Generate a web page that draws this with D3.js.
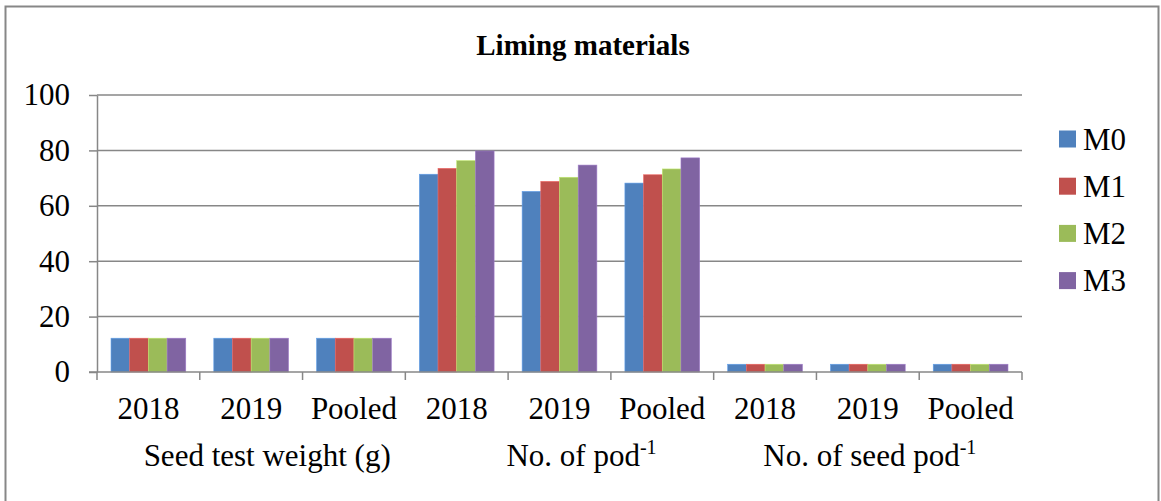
<!DOCTYPE html>
<html>
<head>
<meta charset="utf-8">
<script src="https://cdn.jsdelivr.net/npm/d3@7"></script>
<style>
  html, body { margin: 0; padding: 0; background: #fff; }
  svg { display: block; font-family: "Liberation Serif", "Times New Roman", serif; }
</style>
</head>
<body>
<svg id="chart" width="1161" height="501"></svg>
<script>
// Categories: year within each trait group
const categories = ["2018", "2019", "Pooled", "2018", "2019", "Pooled", "2018", "2019", "Pooled"];
const groups = ["Seed test weight (g)", "No. of pod", "No. of seed pod"];
const groupSup = ["", "-1", "-1"];
const seriesNames = ["M0", "M1", "M2", "M3"];
const seriesColors = ["#4F81BD", "#C0504D", "#9BBB59", "#8064A2"];

// Series values per category
const M0 = [12.2, 12.2, 12.2, 71.4, 65.2, 68.2, 2.8, 2.8, 2.8];
const M1 = [12.2, 12.2, 12.2, 73.5, 68.8, 71.2, 2.8, 2.8, 2.8];
const M2 = [12.2, 12.2, 12.2, 76.3, 70.3, 73.3, 2.8, 2.8, 2.8];
const M3 = [12.2, 12.2, 12.2, 79.8, 74.7, 77.3, 2.8, 2.8, 2.8];
const yTicks = [0, 20, 40, 60, 80, 100];

const series = [M0, M1, M2, M3];
const svg = d3.select("#chart");
const grey = "#878787";
const fs = 31;

// Outer chart frame
svg.append("rect")
  .attr("x", 5.5).attr("y", 6.5)
  .attr("width", 1153).attr("height", 520)
  .attr("fill", "none").attr("stroke", grey).attr("stroke-width", 2);

// Title
svg.append("text")
  .attr("x", 583).attr("y", 55)
  .attr("text-anchor", "middle")
  .attr("font-weight", "bold").attr("font-size", 29)
  .text("Liming materials");

const plot = { left: 97, right: 1022, top: 95, bottom: 372 };

const x = d3.scaleBand()
  .domain(d3.range(categories.length))
  .range([plot.left, plot.right])
  .paddingInner(0).paddingOuter(0);

const y = d3.scaleLinear().domain([0, 100]).range([plot.bottom, plot.top]);

// Bars occupy 4 / 5.5 of each category (gap width 150%)
const barW = x.bandwidth() / 5.5;
const xs = d3.scaleBand().domain(d3.range(seriesNames.length))
  .range([barW * 0.75, barW * 4.75]).padding(0);

// Gridlines
svg.append("g").selectAll("line")
  .data(yTicks.filter(d => d > 0))
  .join("line")
  .attr("x1", plot.left).attr("x2", plot.right)
  .attr("y1", d => y(d)).attr("y2", d => y(d))
  .attr("stroke", grey).attr("stroke-width", 1.5);

// Y axis
const yAxis = svg.append("g")
  .attr("transform", `translate(${plot.left},0)`)
  .call(d3.axisLeft(y).tickValues(yTicks).tickSize(8).tickPadding(19).tickSizeOuter(0));
yAxis.select(".domain").attr("stroke", grey).attr("stroke-width", 1.5);
yAxis.selectAll(".tick line").attr("stroke", grey).attr("stroke-width", 1.5);
yAxis.selectAll(".tick text")
  .attr("font-family", "'Liberation Serif', 'Times New Roman', serif")
  .attr("font-size", fs).attr("fill", "#000");

// Bars
series.forEach((vals, si) => {
  svg.append("g").selectAll("rect")
    .data(vals)
    .join("rect")
    .attr("x", (d, i) => x(i) + xs(si))
    .attr("width", xs.bandwidth())
    .attr("y", d => y(d))
    .attr("height", d => y(0) - y(d))
    .attr("fill", seriesColors[si])
    .attr("stroke", d3.color(seriesColors[si]).brighter(0.6))
    .attr("stroke-width", 0.6);
});

// X axis line and category boundary ticks
svg.append("line")
  .attr("x1", plot.left - 8).attr("x2", plot.right)
  .attr("y1", plot.bottom).attr("y2", plot.bottom)
  .attr("stroke", grey).attr("stroke-width", 1.5);
const bounds = d3.range(categories.length + 1).map(i => plot.left + i * x.step());
svg.append("g").selectAll("line")
  .data(bounds)
  .join("line")
  .attr("x1", d => d).attr("x2", d => d)
  .attr("y1", plot.bottom).attr("y2", plot.bottom + 8)
  .attr("stroke", grey).attr("stroke-width", 1.5);

// Category labels
svg.append("g").selectAll("text")
  .data(categories)
  .join("text")
  .attr("x", (d, i) => x(i) + x.bandwidth() / 2)
  .attr("y", 419)
  .attr("text-anchor", "middle")
  .attr("font-size", fs)
  .text(d => d);

// Group labels
const groupShift = [16, 22, 2];
const gl = svg.append("g").selectAll("text")
  .data(groups)
  .join("text")
  .attr("x", (d, i) => x(i * 3) + x.step() * 1.5 + groupShift[i])
  .attr("y", 466)
  .attr("text-anchor", "middle")
  .attr("font-size", fs);
gl.append("tspan").text(d => d);
gl.append("tspan")
  .attr("dy", -12).attr("font-size", 20)
  .text((d, i) => groupSup[i]);

// Legend
const legend = svg.append("g").selectAll("g")
  .data(seriesNames)
  .join("g")
  .attr("transform", (d, i) => `translate(1059, ${139 + i * 47.2})`);
legend.append("rect")
  .attr("x", 0).attr("y", -8.5)
  .attr("width", 17).attr("height", 17)
  .attr("fill", (d, i) => seriesColors[i]);
legend.append("text")
  .attr("x", 24).attr("y", 10.5)
  .attr("font-size", fs)
  .text(d => d);
</script>
</body>
</html>
